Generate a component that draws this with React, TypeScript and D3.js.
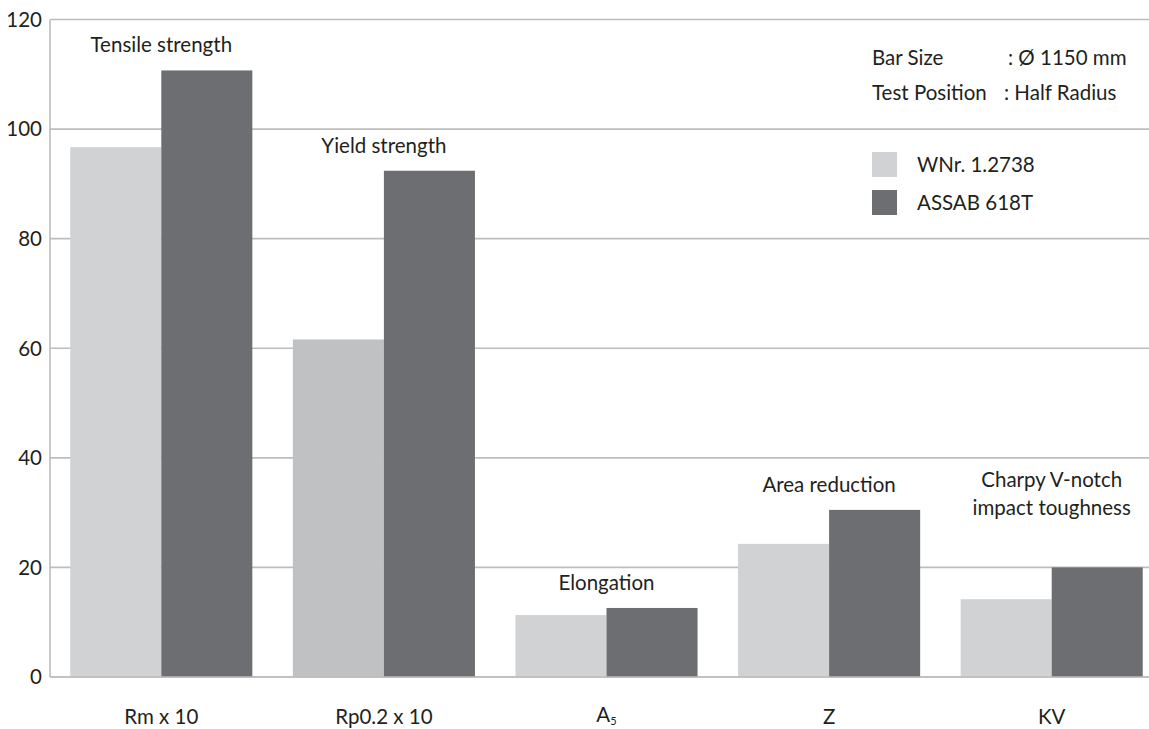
import React from "react";
import * as d3 from "d3";

const categories = ["Rm x 10", "Rp0.2 x 10", "A5", "Z", "KV"];
const seriesNames = ["WNr. 1.2738", "ASSAB 618T"];
const wnrValues = [96.7, 61.6, 11.3, 24.3, 14.2];
const assabValues = [110.7, 92.4, 12.6, 30.5, 20.0];
const propertyLabels = [
  ["Tensile strength"],
  ["Yield strength"],
  ["Elongation"],
  ["Area reduction"],
  ["Charpy V-notch", "impact toughness"],
];
const yTicks = [0, 20, 40, 60, 80, 100, 120];
const infoKeys = ["Bar Size", "Test Position"];
const infoValues = [": Ø 1150 mm", ": Half Radius"];

const W = 1149;
const H = 729;
const FONT = "Lato, 'Open Sans', sans-serif";
const FS = 20.5;
const LIGHT = "#d1d2d4";
const DARK = "#6d6e71";
const LIGHT_OVERRIDE: Record<string, string> = { "Rp0.2 x 10": "#c0c1c3" };
const GRID = "#bdbdbd";
const TEXT = "#231f20";

export default function App() {
  const left = 50;
  const y = d3.scaleLinear().domain([0, 120]).range([677, 19.5]);
  const x0 = d3
    .scaleBand<string>()
    .domain(categories)
    .range([left, left + 5 * 222.6])
    .paddingInner(0.182)
    .paddingOuter(0.091);
  const x1 = d3.scaleBand<number>().domain([0, 1]).range([0, x0.bandwidth()]);
  const series = [wnrValues, assabValues];
  const colors = [LIGHT, DARK];

  return (
    <svg
      width={W}
      height={H}
      style={{ position: "absolute", left: 0, top: 0, background: "#fff" }}
      fontFamily={FONT}
    >
      {yTicks.map((t) => (
        <line
          key={"g" + t}
          x1={left}
          x2={W}
          y1={y(t)}
          y2={y(t)}
          stroke={GRID}
          strokeWidth={1.6}
        />
      ))}
      <line x1={left} x2={left} y1={y(120)} y2={y(0)} stroke={GRID} strokeWidth={1.6} />
      {yTicks.map((t) => (
        <text
          key={"t" + t}
          x={left - 8}
          y={y(t)}
          dy="0.36em"
          textAnchor="end"
          fontSize={FS}
          fill={TEXT}
        >
          {t}
        </text>
      ))}

      {categories.map((c, i) => (
        <g key={c} transform={`translate(${x0(c)},0)`}>
          {series.map((vals, s) => (
            <rect
              key={s}
              x={x1(s)}
              width={x1.bandwidth()}
              y={y(vals[i])}
              height={y(0) - y(vals[i])}
              fill={s === 0 && LIGHT_OVERRIDE[c] ? LIGHT_OVERRIDE[c] : colors[s]}
            />
          ))}
        </g>
      ))}
      <line x1={left} x2={W} y1={y(0)} y2={y(0)} stroke={GRID} strokeWidth={1.6} />

      {categories.map((c, i) => {
        const cx = (x0(c) as number) + x0.bandwidth() / 2;
        const top = y(Math.max(wnrValues[i], assabValues[i]));
        const lines = propertyLabels[i];
        const offset = lines.length > 1 ? 52 : 18;
        return (
          <text key={"p" + c} x={cx} textAnchor="middle" fontSize={FS} fill={TEXT}>
            {lines.map((l, k) => (
              <tspan key={k} x={cx} y={top - offset - (lines.length - 1 - k) * 28}>
                {l}
              </tspan>
            ))}
          </text>
        );
      })}

      {categories.map((c) => {
        const cx = (x0(c) as number) + x0.bandwidth() / 2;
        if (c === "A5") {
          return (
            <text key={"c" + c} x={cx} y={722} textAnchor="middle" fontSize={FS} fill={TEXT}>
              A
              <tspan fontSize={11} dy={3}>
                5
              </tspan>
            </text>
          );
        }
        return (
          <text key={"c" + c} x={cx} y={724} textAnchor="middle" fontSize={FS} fill={TEXT}>
            {c}
          </text>
        );
      })}

      {infoKeys.map((k, i) => (
        <g key={"i" + k} fontSize={FS} fill={TEXT}>
          <text x={872} y={65 + i * 35}>
            {k}
          </text>
          <text x={i === 0 ? 1008 : 1004} y={65 + i * 35}>
            {infoValues[i]}
          </text>
        </g>
      ))}

      {seriesNames.map((n, k) => (
        <g key={"l" + n} transform={`translate(872,${152 + k * 38})`}>
          <rect width={25} height={25} fill={colors[k]} />
          <text x={45} y={20} fontSize={FS} fill={TEXT}>
            {n}
          </text>
        </g>
      ))}
    </svg>
  );
}
